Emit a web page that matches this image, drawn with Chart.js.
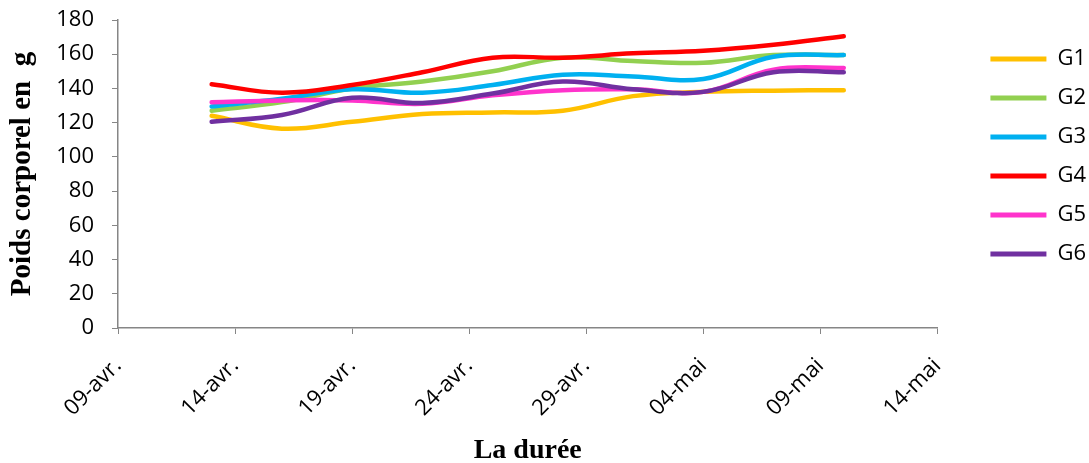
<!DOCTYPE html>
<html>
<head>
<meta charset="utf-8">
<script src="https://cdn.jsdelivr.net/npm/chart.js@4"></script>
<style>
  html, body { margin: 0; padding: 0; background: #fff; }
  #wrap { width: 1089px; height: 463px; position: relative; }
</style>
</head>
<body>
<div id="wrap"><canvas id="chart"></canvas></div>
<script>
// dates de pesée (jours)
const debut = "2023-04-09";
const dates = ["2023-04-13", "2023-04-16", "2023-04-19", "2023-04-22", "2023-04-25",
               "2023-04-28", "2023-05-01", "2023-05-04", "2023-05-07", "2023-05-10"];
const tickLabels = ["09-avr.", "14-avr.", "19-avr.", "24-avr.", "29-avr.", "04-mai", "09-mai", "14-mai"];

// poids corporel (g) par groupe
const groupes = ["G1", "G2", "G3", "G4", "G5", "G6"];
const g1 = [124, 116.5, 120.5, 125, 126, 127, 135.5, 138, 138.7, 139];
const g2 = [127, 132, 140, 144, 150, 158, 156, 155, 159.5, 159.5];
const g3 = [129.5, 134, 139.5, 137.5, 142, 148, 147, 145.5, 158.5, 159.5];
const g4 = [142.5, 137.5, 142, 149.5, 158, 158, 160.5, 162, 165.5, 170.5];
const g5 = [132, 133, 133, 131, 136, 139, 139.5, 138, 151, 152];
const g6 = [120.5, 124.5, 134.5, 131.5, 137, 144, 139.5, 138, 149.5, 149.5];
const couleurs = ["#FFC000", "#92D050", "#00B0F0", "#FF0000", "#FF33CC", "#7030A0"];

const jour = 86400000;
const jours = dates.map(d => (Date.parse(d) - Date.parse(debut)) / jour);

const series = [g1, g2, g3, g4, g5, g6];
const datasets = series.map((vals, i) => ({
  label: groupes[i],
  data: vals.map((v, k) => ({ x: jours[k], y: v })),
  borderColor: couleurs[i],
  backgroundColor: couleurs[i],
  borderWidth: 4.5,
  borderCapStyle: "round",
  pointRadius: 0,
  tension: 0.4,
  order: series.length - i
}));

const tickFont = { family: "Open Sans", size: 22 };
const gris = "#868686";

new Chart(document.getElementById("chart"), {
  type: "line",
  data: { datasets: datasets },
  options: {
    responsive: true,
    maintainAspectRatio: false,
    animation: false,
    layout: { padding: { top: 20, right: -7, left: 0, bottom: 0 } },
    plugins: {
      tooltip: { enabled: false },
      legend: {
        position: "right",
        align: "start",
        title: { display: true, text: " ", font: { size: 7.5 }, padding: { top: 2, bottom: 0 } },
        labels: {
          color: "#000",
          font: { family: "Open Sans", size: 22 },
          boxWidth: 56,
          boxHeight: 5,
          padding: 17,
          useBorderRadius: true,
          borderRadius: 2.5,
          sort: (a, b) => a.datasetIndex - b.datasetIndex,
          generateLabels: function (chart) {
            return chart.data.datasets.map((ds, i) => ({
              text: ds.label,
              fillStyle: ds.borderColor,
              strokeStyle: ds.borderColor,
              lineWidth: 0,
              fontColor: "#000",
              datasetIndex: i
            }));
          }
        }
      }
    },
    scales: {
      x: {
        type: "linear",
        min: 0,
        max: 35,
        afterFit: function (scale) { scale.height = 135; },
        grid: { display: true, drawOnChartArea: false, drawTicks: true, tickLength: 6, color: gris },
        border: { color: gris, width: 1.5 },
        ticks: {
          stepSize: 5,
          autoSkip: false,
          maxRotation: 45,
          minRotation: 45,
          color: "#000",
          font: tickFont,
          padding: 19,
          callback: v => tickLabels[v / 5]
        },
        title: { display: true, text: "La durée", color: "#000",
                 font: { family: "Liberation Serif", size: 28, weight: "bold", lineHeight: 0.9 },
                 padding: { top: 4, bottom: 0 } }
      },
      y: {
        min: 0,
        max: 180,
        afterFit: function (scale) {
          scale.width = 118;
          // le haut du graphique est fixé par layout.padding
          scale.paddingTop = 0;
          scale.paddingBottom = 0;
        },
        grid: { display: true, drawOnChartArea: false, drawTicks: true, tickLength: 6, color: gris },
        border: { color: gris, width: 1.5 },
        ticks: { stepSize: 20, color: "#000", font: tickFont, padding: 18 },
        title: { display: true, text: "Poids corporel en  g", color: "#000",
                 font: { family: "Liberation Serif", size: 29, weight: "bold" }, padding: { top: 5, bottom: 0 } }
      },
      // espace vide entre la zone du graphique et la légende
      marge: {
        axis: "y",
        position: "right",
        display: true,
        afterFit: function (scale) { scale.width = 36; },
        grid: { display: false },
        border: { display: false },
        ticks: { display: false }
      }
    }
  }
});
</script>
</body>
</html>
